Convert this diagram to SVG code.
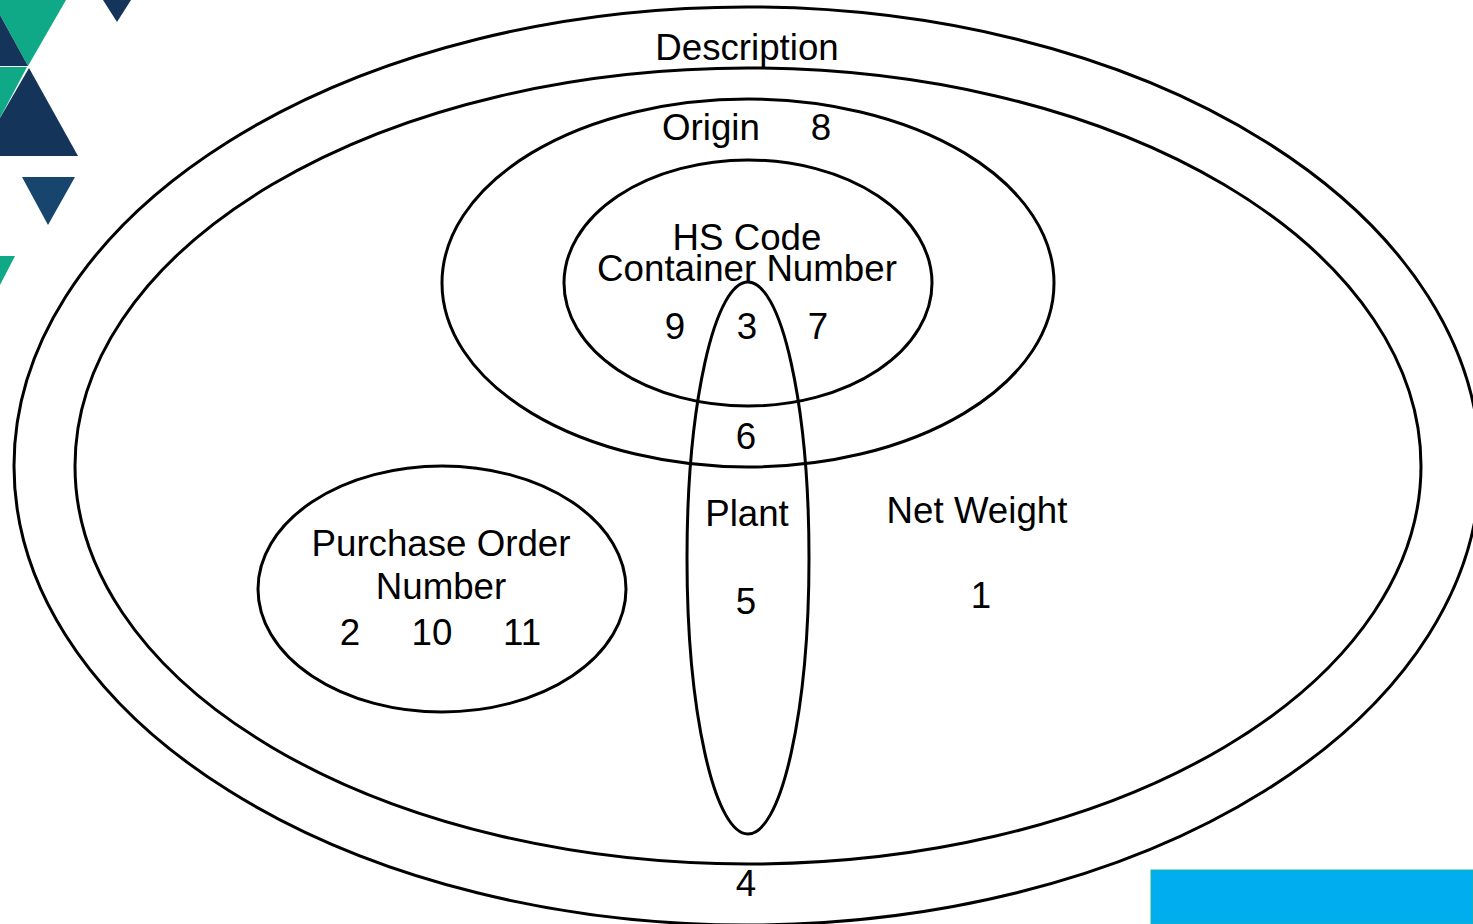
<svg xmlns="http://www.w3.org/2000/svg" width="1473" height="924" viewBox="0 0 1473 924">
<style>
.e{fill:none;stroke:#000;stroke-width:3}
.g{fill:#10a987}
.d{fill:#14345a}
text{font-family:"Liberation Sans",Arial,sans-serif;font-size:36.7px;fill:#000;text-anchor:middle}
</style>
<rect width="1473" height="924" fill="#fff"/>
<g id="decor">
<polygon class="g" points="0,0 66,0 28,66 0,15"/>
<polygon class="d" points="0,15 28,66 0,66"/>
<polygon class="g" points="0,67 27,67 0,118"/>
<polygon class="d" points="29,68 78,156 0,156 0,118"/>
<polygon class="d" points="103,0 131,0 117,22" fill="#17406a"/>
<polygon points="22,177 75,177 48,225" fill="#17456e"/>
<polygon class="g" points="0,256 15,256 0,285"/>
<rect x="1151" y="870" width="322" height="54" fill="#00aeef" stroke="#1fb5a0" stroke-width="1"/>
</g>
<g id="connectors"></g>
<g id="node-description"><ellipse class="e" cx="747" cy="466" rx="733" ry="459"/><text x="747" y="60">Description</text></g>
<g id="node-net-weight"><ellipse class="e" cx="748" cy="466" rx="673" ry="398"/><text x="977" y="523">Net Weight</text><text x="981" y="608">1</text></g>
<g id="node-origin"><ellipse class="e" cx="748" cy="283" rx="306" ry="184"/><text x="711" y="140">Origin</text><text x="821" y="140">8</text><text x="746" y="449">6</text></g>
<g id="node-hs"><ellipse class="e" cx="748" cy="283" rx="184" ry="123"/><text x="747" y="250">HS Code</text><text x="747" y="281">Container Number</text><text x="675" y="339">9</text><text x="747" y="339">3</text><text x="818" y="339">7</text></g>
<g id="node-plant"><ellipse class="e" cx="748" cy="558" rx="61" ry="276"/><text x="747" y="526">Plant</text><text x="746" y="614">5</text></g>
<g id="node-po"><ellipse class="e" cx="442" cy="589" rx="184" ry="123"/><text x="441" y="556">Purchase Order</text><text x="441" y="599">Number</text><text x="350" y="645">2</text><text x="432" y="645">10</text><text x="522" y="645">11</text></g>
<g id="node-4"><text x="746" y="896">4</text></g>
</svg>
